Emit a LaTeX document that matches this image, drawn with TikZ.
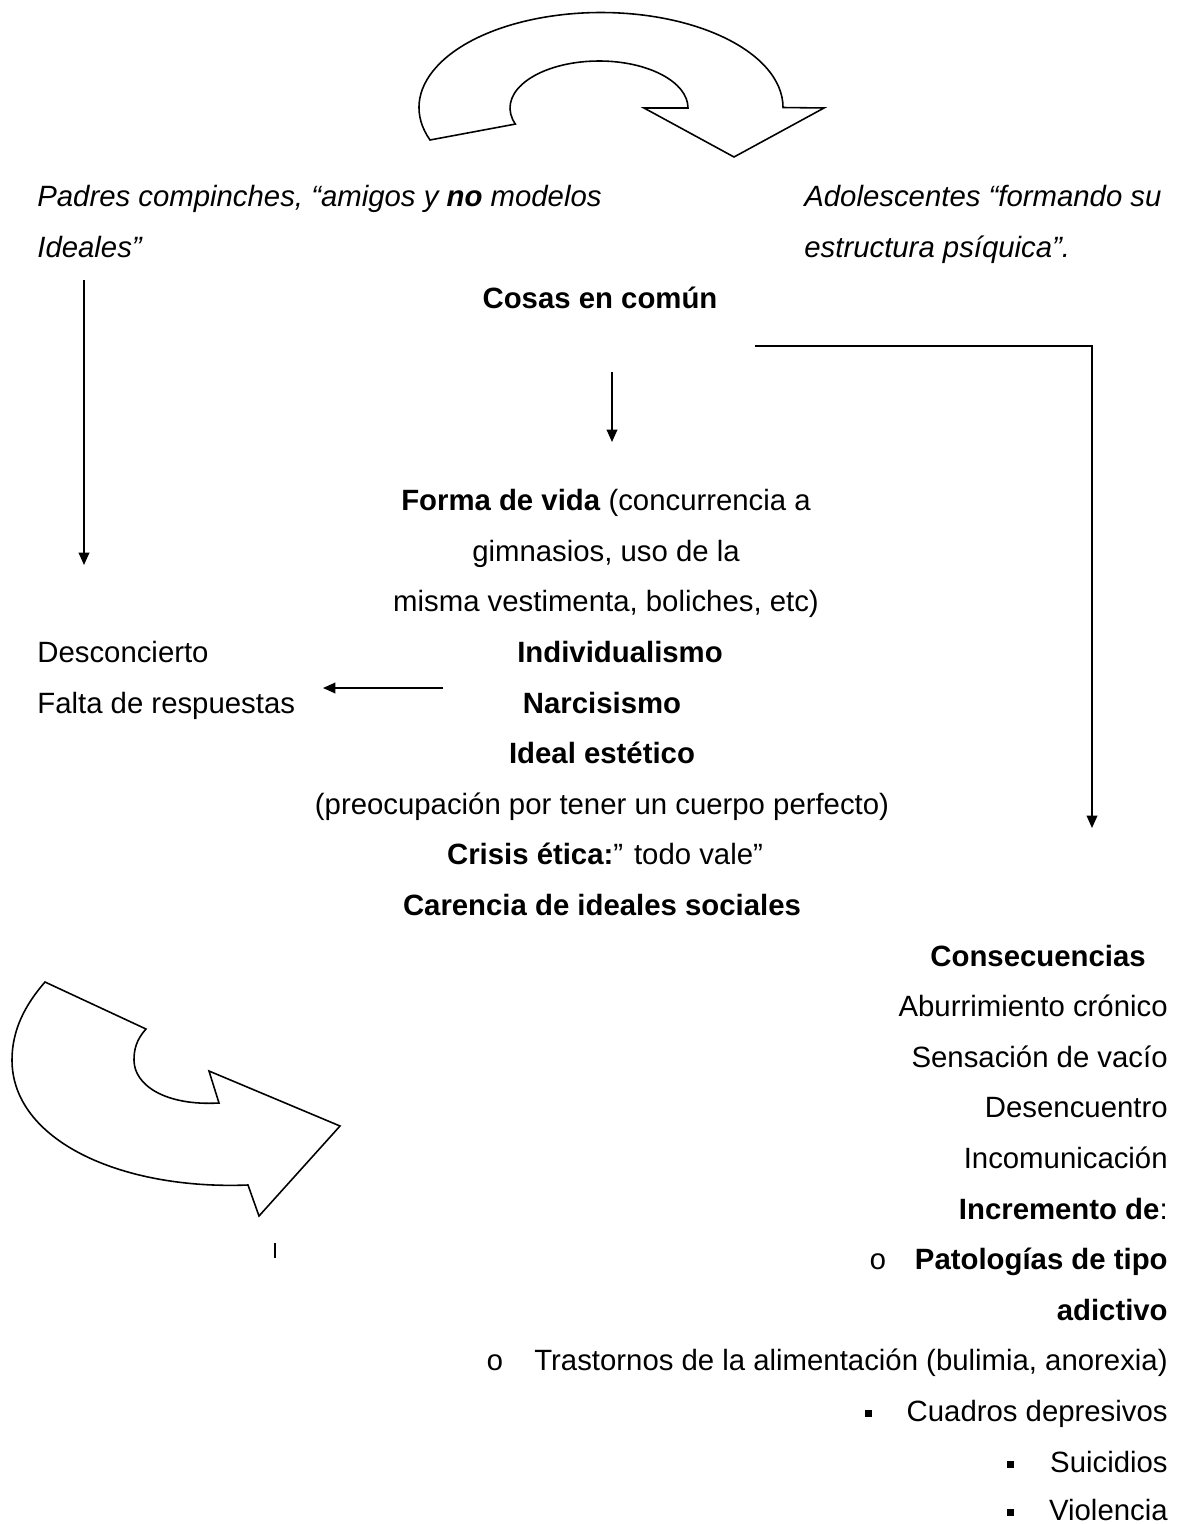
\documentclass[tikz,border=0pt]{standalone}
\usepackage{fontspec}
\setmainfont{Liberation Sans}
\newfontfamily\vinetafont{Liberation Mono}
\usetikzlibrary{arrows.meta}

\begin{document}
\begin{tikzpicture}[x=0.02cm, y=0.02cm, yscale=-1,
	font=\fontsize{16.7}{20}\selectfont,
	izq/.style={anchor=base west, inner sep=0pt},
	der/.style={anchor=base east, inner sep=0pt},
	cen/.style={anchor=base, inner sep=0pt},
	flecha/.style={line width=1pt, -{Triangle[length=7pt, width=6pt]}},
	curva/.style={draw, line width=0.9pt, line join=miter},
	vineta/.style={anchor=base, inner sep=0pt, font=\fontsize{16.7}{20}\vinetafont},
	cuadro/.style={fill, minimum size=0.14cm, inner sep=0pt}]
	\useasboundingbox (0,0) rectangle (1177,1524);

	% Curved arrows
	\draw[curva] (430,140) arc[start angle=160, end angle=360, x radius=182, y radius=95]
		-- (824,108) -- (734,157) -- (644,108) -- (688,108)
		arc[start angle=360, end angle=160, x radius=89, y radius=47] -- cycle;
	\draw[curva] (45,982) .. controls (25,1005) and (12,1030) .. (12,1060)
		.. controls (12,1140) and (120,1190) .. (248,1185)
		-- (259,1216) -- (340,1126) -- (209,1071) -- (219,1103)
		.. controls (165,1106) and (134,1085) .. (134,1060)
		.. controls (134,1050) and (136,1040) .. (146,1029) -- cycle;
	\coordinate (marcaA) at (275,1243);
	\coordinate (marcaB) at (275,1258);
	\draw[line width=0.8pt] (marcaA) -- (marcaB);

	% Top: parents and adolescents
	\node[izq] (padres) at (37,207) {\itshape Padres compinches, “amigos y \textbf{no} modelos};
	\node[izq] (ideales) at (37,257.6) {\itshape Ideales”};
	\node[izq] (adolesc) at (804,207) {\itshape Adolescentes “formando su};
	\node[izq] (estruct) at (804,257.6) {\itshape estructura psíquica”.};
	\node[cen] (comun) at (600,308.2) {\bfseries Cosas en común};

	% Things in common
	\node[cen] (forma) at (606,510.6) {\textbf{Forma de vida} (concurrencia a};
	\node[cen] (gimnasios) at (606,561.2) {gimnasios, uso de la};
	\node[cen] (misma) at (606,611.8) {misma vestimenta, boliches, etc)};
	\node[cen] (individ) at (620,662.4) {\bfseries Individualismo};
	\node[cen] (narcis) at (602,713) {\bfseries Narcisismo};
	\node[cen] (ideal) at (602,763.6) {\bfseries Ideal estético};
	\node[cen] (preocup) at (602,814.2) {(preocupación por tener un cuerpo perfecto)};
	\node[cen] (crisis) at (605,864.8) {\textbf{Crisis ética:}” todo vale”};
	\node[cen] (carencia) at (602,915.4) {\bfseries Carencia de ideales sociales};

	% Left side
	\node[izq] (descon) at (37,662.4) {Desconcierto};
	\node[izq] (falta) at (37,713) {Falta de respuestas};

	% Consequences
	\node[der] (consec) at (1146,966) {\bfseries Consecuencias};
	\node[der] (aburr) at (1168,1016.6) {Aburrimiento crónico};
	\node[der] (vacio) at (1168,1067.2) {Sensación de vacío};
	\node[der] (desenc) at (1168,1117.8) {Desencuentro};
	\node[der] (incom) at (1168,1168.4) {Incomunicación};
	\node[der] (increm) at (1168,1219) {\textbf{Incremento de}:};
	\node[der] (patol) at (1168,1269.6) {\bfseries Patologías de tipo};
	\node[der] (adict) at (1168,1320.2) {\bfseries adictivo};
	\node[der] (trast) at (1168,1370.8) {Trastornos de la alimentación (bulimia, anorexia)};
	\node[der] (cuadros) at (1168,1421.4) {Cuadros depresivos};
	\node[der] (suic) at (1168,1472) {Suicidios};
	\node[der] (viol) at (1168,1520.5) {Violencia};
	\node[vineta] (vinP) at (878,1269.6) {o};
	\node[vineta] (vinT) at (495,1370.8) {o};
	\node[cuadro] (cuaC) at (868,1413) {};
	\node[cuadro] (cuaS) at (1010,1464) {};
	\node[cuadro] (cuaV) at (1010,1512.5) {};

	% Connectors
	\coordinate (izqA) at (84,280);
	\coordinate (izqB) at (84,565);
	\coordinate (medA) at (612,372);
	\coordinate (medB) at (612,442);
	\coordinate (derA) at (755,346);
	\coordinate (derB) at (1092,346);
	\coordinate (derC) at (1092,828);
	\coordinate (horA) at (443,688);
	\coordinate (horB) at (323,688);
	\draw[flecha] (izqA) -- (izqB);
	\draw[flecha] (medA) -- (medB);
	\draw[flecha] (derA) -- (derB) -- (derC);
	\draw[flecha] (horA) -- (horB);
\end{tikzpicture}
\end{document}
